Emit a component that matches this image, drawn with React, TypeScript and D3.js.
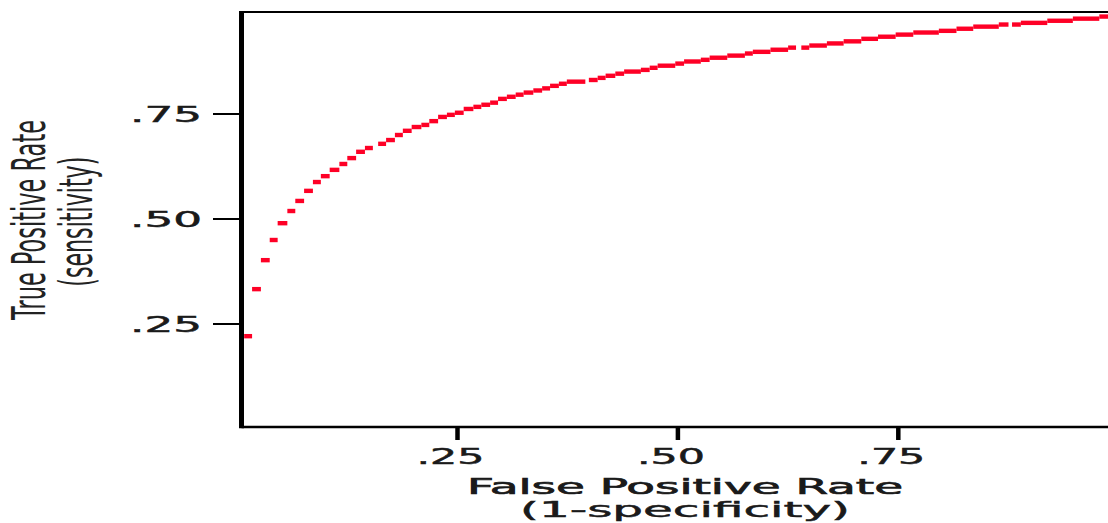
import React from 'react';
import * as d3 from 'd3';

// ROC curve: each dash runs from segStart to segEnd (FPR) at a TPR
const segStart = [0.008, 0.017, 0.027, 0.037, 0.046, 0.057, 0.066, 0.076, 0.086, 0.095, 0.105, 0.116, 0.125, 0.135, 0.145, 0.160, 0.169, 0.179, 0.188, 0.198, 0.209, 0.218, 0.228, 0.238, 0.247, 0.257, 0.268, 0.277, 0.287, 0.296, 0.306, 0.316, 0.325, 0.336, 0.346, 0.355, 0.365, 0.374, 0.399, 0.409, 0.418, 0.429, 0.439, 0.458, 0.468, 0.477, 0.497, 0.507, 0.526, 0.536, 0.556, 0.576, 0.585, 0.605, 0.625, 0.640, 0.649, 0.669, 0.688, 0.708, 0.727, 0.747, 0.767, 0.796, 0.816, 0.835, 0.864, 0.879, 0.889, 0.919, 0.948, 0.978];
const segEnd = [0.017, 0.027, 0.037, 0.046, 0.057, 0.066, 0.076, 0.086, 0.095, 0.105, 0.116, 0.125, 0.135, 0.145, 0.154, 0.169, 0.179, 0.188, 0.198, 0.209, 0.218, 0.228, 0.238, 0.247, 0.257, 0.268, 0.277, 0.287, 0.296, 0.306, 0.316, 0.325, 0.336, 0.346, 0.355, 0.365, 0.374, 0.395, 0.409, 0.418, 0.429, 0.439, 0.458, 0.468, 0.477, 0.497, 0.507, 0.526, 0.536, 0.556, 0.576, 0.585, 0.605, 0.625, 0.634, 0.649, 0.669, 0.688, 0.708, 0.727, 0.747, 0.767, 0.796, 0.816, 0.835, 0.864, 0.875, 0.889, 0.919, 0.948, 0.978, 1.0];
const tpr = [0.221, 0.333, 0.402, 0.450, 0.490, 0.519, 0.543, 0.567, 0.588, 0.602, 0.617, 0.631, 0.645, 0.660, 0.669, 0.679, 0.688, 0.700, 0.710, 0.719, 0.724, 0.733, 0.743, 0.748, 0.753, 0.762, 0.767, 0.772, 0.777, 0.786, 0.791, 0.796, 0.801, 0.806, 0.811, 0.817, 0.822, 0.827, 0.831, 0.836, 0.841, 0.846, 0.851, 0.855, 0.860, 0.865, 0.870, 0.875, 0.879, 0.884, 0.889, 0.894, 0.898, 0.903, 0.908, 0.908, 0.913, 0.918, 0.923, 0.929, 0.934, 0.939, 0.944, 0.948, 0.953, 0.958, 0.963, 0.963, 0.967, 0.972, 0.977, 0.982];

const tickValues = [0.25, 0.5, 0.75];
const tickLabels = ['.25', '.50', '.75'];

const W = 1108;
const H = 523;
const FONT = 'DejaVu Sans, sans-serif';

export default function App() {
  const x = d3.scaleLinear().domain([0, 1]).range([237.1, 1118.7]);
  const y = d3.scaleLinear().domain([0, 1]).range([429, 9]);
  const left = 241.5;

  return (
    <svg width={W} height={H} style={{ position: 'absolute', left: 0, top: 0, display: 'block' }}>
      <rect width={W} height={H} fill="#fff" />
      <defs>
        <clipPath id="plot">
          <rect x={244} y={0} width={W - 244} height={426} />
        </clipPath>
      </defs>

      {/* frame */}
      <line x1={left} x2={W} y1={12} y2={12} stroke="#000" strokeWidth={2} />
      <line x1={left} x2={W} y1={427} y2={427} stroke="#000" strokeWidth={2.5} />
      <line x1={left} x2={left} y1={11} y2={428.2} stroke="#000" strokeWidth={5} />

      {/* y ticks */}
      {tickValues.map((t, i) => (
        <g key={'y' + i}>
          <line x1={213} x2={240} y1={y(t)} y2={y(t)} stroke="#000" strokeWidth={2} />
          <text x={202} y={y(t) + 8} textAnchor="end" fontFamily={FONT} fontSize={21}
            textLength={72} lengthAdjust="spacingAndGlyphs" fill="#1a1a1a"
            stroke="#1a1a1a" strokeWidth={0.5}>{tickLabels[i]}</text>
        </g>
      ))}

      {/* x ticks */}
      {tickValues.map((t, i) => (
        <g key={'x' + i}>
          <line x1={x(t)} x2={x(t)} y1={427} y2={440} stroke="#000" strokeWidth={4.5} />
          <text x={x(t) - 7} y={463.5} textAnchor="middle" fontFamily={FONT} fontSize={21}
            textLength={68} lengthAdjust="spacingAndGlyphs" fill="#1a1a1a"
            stroke="#1a1a1a" strokeWidth={0.5}>{tickLabels[i]}</text>
        </g>
      ))}

      {/* curve */}
      <g clipPath="url(#plot)">
        {segStart.map((s, i) => (
          <rect key={i} x={x(s)} width={x(segEnd[i]) - x(s)} y={y(tpr[i]) - 2.2} height={4.4} fill="#fe0026" />
        ))}
      </g>

      {/* axis titles */}
      <text x={685} y={494} textAnchor="middle" fontFamily={FONT} fontSize={22}
        textLength={436} lengthAdjust="spacingAndGlyphs" fill="#1a1a1a"
        stroke="#1a1a1a" strokeWidth={0.7}>False Positive Rate</text>
      <text x={685} y={517} textAnchor="middle" fontFamily={FONT} fontSize={22}
        textLength={330} lengthAdjust="spacingAndGlyphs" fill="#1a1a1a"
        stroke="#1a1a1a" strokeWidth={0.5}>(1-specificity)</text>

      <text transform="translate(45,220) scale(2,1) rotate(-90)" textAnchor="middle"
        fontFamily={FONT} fontSize={23} textLength={200} lengthAdjust="spacingAndGlyphs" fill="#222">
        True Positive Rate
      </text>
      <text transform="translate(92,221.7) scale(2,1) rotate(-90)" textAnchor="middle"
        fontFamily={FONT} fontSize={23} textLength={130} lengthAdjust="spacingAndGlyphs" fill="#222">
        (sensitivity)
      </text>
    </svg>
  );
}
